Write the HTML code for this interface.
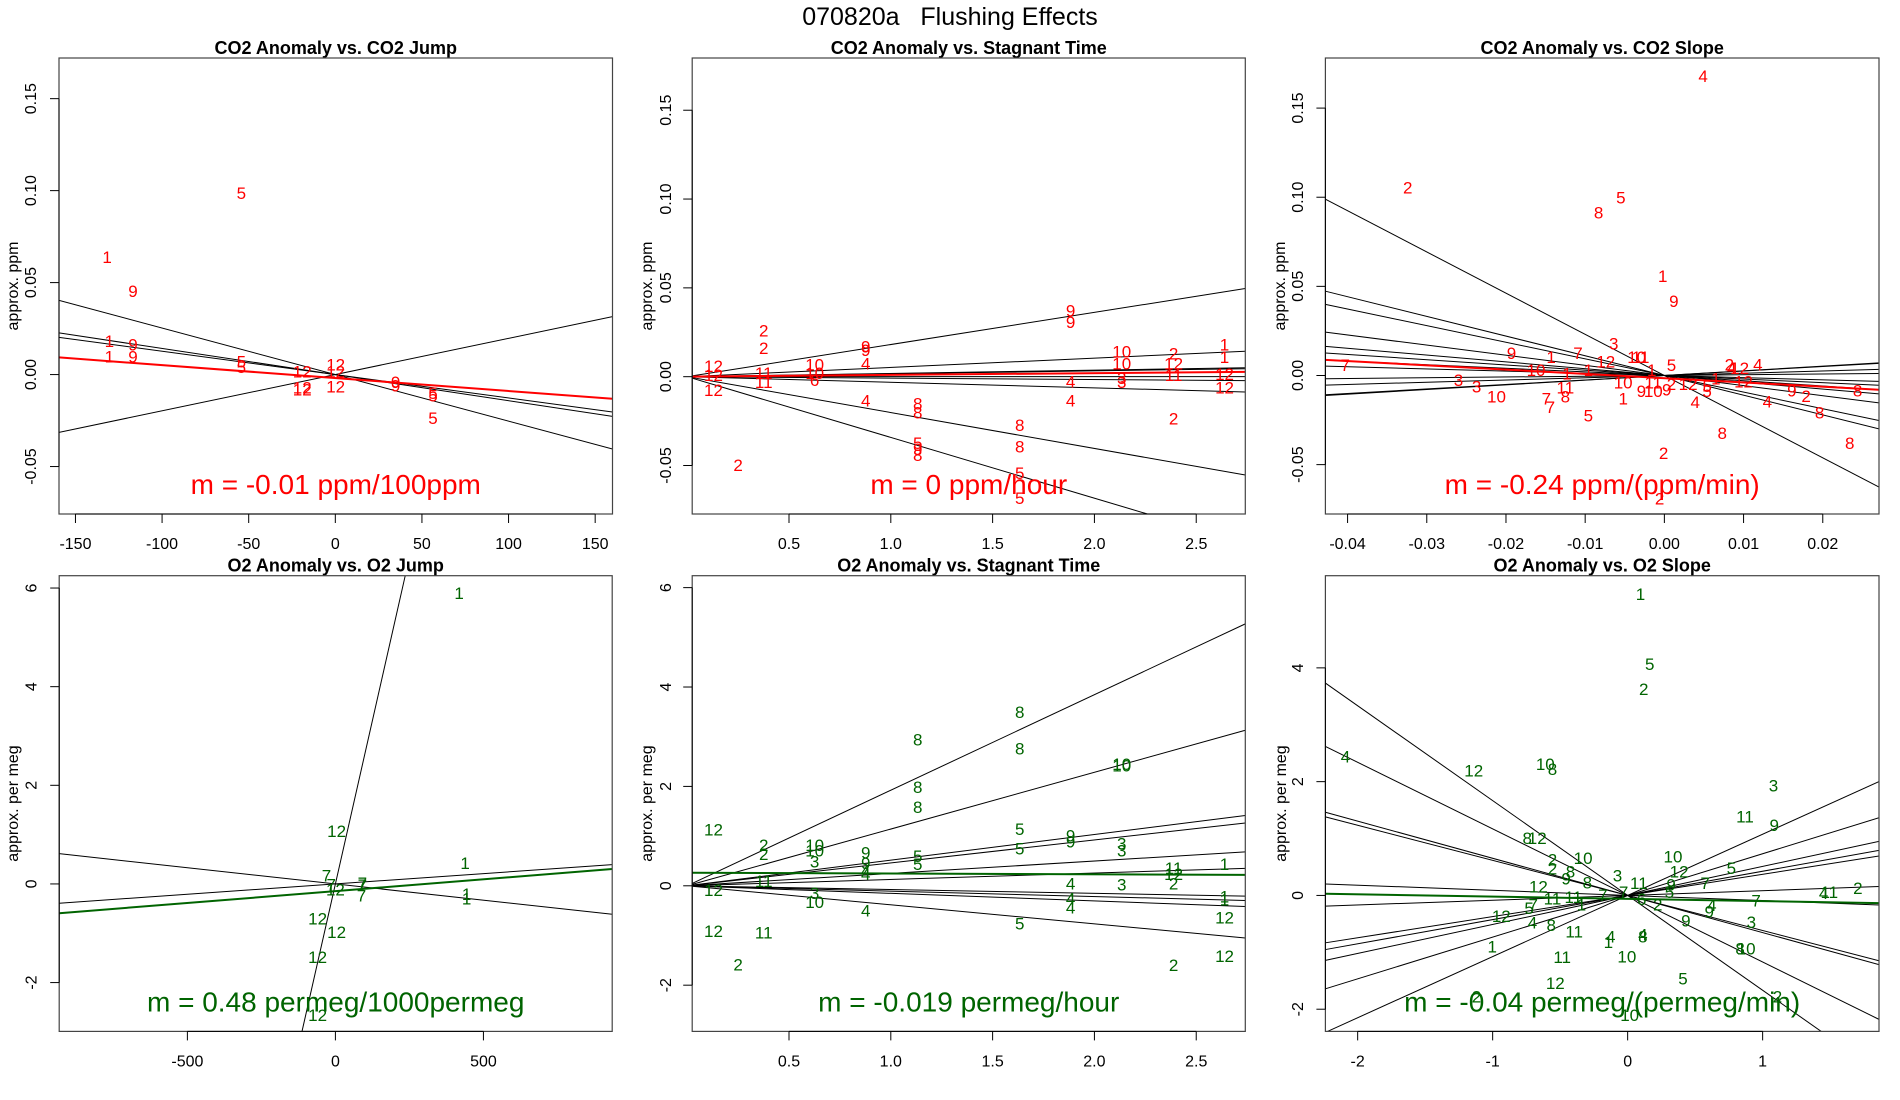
<!DOCTYPE html>
<html><head><meta charset="utf-8"><style>
html,body{margin:0;padding:0;background:#fff;width:1900px;height:1100px;overflow:hidden;}
svg{display:block;font-family:"Liberation Sans",Arial,sans-serif;}
</style></head><body>
<svg id="fig" width="1900" height="1100" viewBox="0 0 1900 1100">
<rect x="0" y="0" width="1900" height="1100" fill="#fff"/>
<text x="950" y="25" font-size="25" text-anchor="middle" style="white-space:pre" xml:space="preserve">070820a   Flushing Effects</text>
</svg>
<script>
// ---------- Panel 1: CO2 Anomaly vs. CO2 Jump ----------
const p1XTicks = [-150,-100,-50,0,50,100,150];
const p1XTickLabels = ["-150","-100","-50","0","50","100","150"];
const p1YTicks = [-0.05,0,0.05,0.10,0.15];
const p1YTickLabels = ["-0.05","0.00","0.05","0.10","0.15"];
const p1Slopes = [-0.000253,-0.000142,-0.000127,0.000197];
const p1FitSlope = -0.0000704;
const p1FitIntercept = -0.0019;
const p1Labels = ["5","1","9","1","1","9","9","5","5","12","12","12","12","12","12","9","9","5","5","5"];
const p1PX = [-54.2,-131.7,-116.8,-130.4,-130.4,-116.8,-116.8,-54.2,-54.2,-19.1,-19.1,-19.1,0.2,0.2,0.2,34.8,34.8,56.4,56.4,56.4];
const p1PY = [0.0988,0.0639,0.0454,0.0183,0.0099,0.0163,0.0099,0.0072,0.0042,0.0017,-0.0070,-0.0082,0.0056,0.0017,-0.0065,-0.0041,-0.0060,-0.0099,-0.0113,-0.0235];

// ---------- Panel 2: CO2 Anomaly vs. Stagnant Time ----------
const p2XTicks = [0.5,1.0,1.5,2.0,2.5];
const p2XTickLabels = ["0.5","1.0","1.5","2.0","2.5"];
const p2YTicks = [-0.05,0,0.05,0.10,0.15];
const p2YTickLabels = ["-0.05","0.00","0.05","0.10","0.15"];
const p2Slopes = [0.0181,0.00522,0.00183,0.00164,0,-0.0008,-0.00314,-0.0202,-0.0342];
const p2FitSlope = 0.001;
const p2FitIntercept = 0;
const p2Labels = ["12","12","12","2","2","2","11","11","10","10","6","9","9","4","4","8","8","5","9","8","8","8","5","5","9","9","4","4","10","10","3","3","2","12","11","2","1","1","12","12"];
const p2PX = [0.129,0.129,0.129,0.25,0.376,0.376,0.376,0.376,0.626,0.626,0.626,0.877,0.877,0.877,0.877,1.132,1.132,1.132,1.132,1.132,1.633,1.633,1.633,1.633,1.883,1.883,1.883,1.883,2.134,2.134,2.134,2.134,2.389,2.389,2.389,2.389,2.639,2.639,2.639,2.639];
const p2PY = [0.0060,0.0010,-0.0074,-0.0496,0.0261,0.0161,0.0020,-0.0030,0.0070,0.0020,-0.0020,0.0171,0.0151,0.0074,-0.0134,-0.0151,-0.0201,-0.0372,-0.0408,-0.0442,-0.0271,-0.0392,-0.0543,-0.0683,0.0372,0.0308,-0.0026,-0.0134,0.0141,0.0074,-0.0006,-0.0030,0.0131,0.0074,0.0010,-0.0235,0.0181,0.0111,0.0014,-0.0060];

// ---------- Panel 3: CO2 Anomaly vs. CO2 Slope ----------
const p3XTicks = [-0.04,-0.03,-0.02,-0.01,0,0.01,0.02];
const p3XTickLabels = ["-0.04","-0.03","-0.02","-0.01","0.00","0.01","0.02"];
const p3YTicks = [-0.05,0,0.05,0.10,0.15];
const p3YTickLabels = ["-0.05","0.00","0.05","0.10","0.15"];
const p3Slopes = [-2.31,-1.105,-0.932,-0.568,-0.381,-0.295,-0.201,-0.122,0.042,0.126,0.252,0.262];
const p3FitSlope = -0.24;
const p3FitIntercept = -0.0015;
const p3Labels = ["4","2","5","8","1","9","3","9","7","1","7","10","1","1","12","10","11","5","1","3","3","10","7","7","11","8","5","1","10","9","10","11","9","2","12","5","5","1","4","8","2","2","2","4","12","4","12","4","9","2","8","8","8"];
const p3PX = [0.00489,-0.0324,-0.0055,-0.0083,-0.0002,0.0012,-0.0064,-0.0193,-0.0109,-0.0143,-0.0403,-0.0162,-0.0123,-0.0096,-0.0074,-0.0035,-0.0030,0.0009,-0.0016,-0.026,-0.0237,-0.0212,-0.0149,-0.0144,-0.0125,-0.0125,-0.0096,-0.0052,-0.0052,-0.0029,-0.0014,-0.0014,0.0003,0.0009,0.0030,0.0054,0.0054,0.0065,0.0039,0.0073,-0.0001,-0.0006,0.0082,0.0085,0.0095,0.0118,0.0100,0.0130,0.0161,0.0179,0.0196,0.0244,0.0234];
const p3PY = [0.168,0.1054,0.0998,0.0914,0.0557,0.0417,0.0179,0.0126,0.0126,0.0103,0.0058,0.0032,0.0012,0.0032,0.0078,0.0103,0.0103,0.0058,0.0032,-0.0024,-0.0062,-0.0118,-0.0128,-0.0178,-0.0068,-0.0118,-0.0224,-0.0128,-0.0038,-0.0088,-0.0088,-0.0038,-0.0078,-0.0048,-0.0048,-0.0088,-0.0060,-0.0018,-0.0148,-0.0324,-0.0435,-0.0689,0.0062,0.0042,0.0042,0.0062,-0.0034,-0.0146,-0.0084,-0.0114,-0.0208,-0.0084,-0.0379];

// ---------- Panel 4: O2 Anomaly vs. O2 Jump ----------
const p4XTicks = [-500,0,500];
const p4XTickLabels = ["-500","0","500"];
const p4YTicks = [-2,0,2,4,6];
const p4YTickLabels = ["-2","0","2","4","6"];
const p4Slopes = [0.0265,-0.000658,0.000419];
const p4FitSlope = 0.00048;
const p4FitIntercept = -0.146;
const p4Labels = ["1","12","1","7","7","12","7","7","7","1","1","12","12","12","12"];
const p4PX = [418,4,438,-30,-14,0,91,91,88,443,443,-60,4,-60,-60];
const p4PY = [5.90,1.07,0.42,0.17,-0.01,-0.11,0.02,-0.02,-0.23,-0.20,-0.30,-0.70,-0.97,-1.48,-2.66];

// ---------- Panel 5: O2 Anomaly vs. Stagnant Time ----------
const p5XTicks = [0.5,1.0,1.5,2.0,2.5];
const p5XTickLabels = ["0.5","1.0","1.5","2.0","2.5"];
const p5YTicks = [-2,0,2,4,6];
const p5YTickLabels = ["-2","0","2","4","6"];
const p5Slopes = [1.923,1.142,0.516,0.461,0.249,0.128,-0.076,-0.108,-0.152,-0.383];
const p5FitSlope = -0.016;
const p5FitIntercept = 0.264;
const p5Labels = ["12","12","12","2","2","2","11","11","10","10","3","3","10","9","9","4","4","4","8","8","8","5","5","8","8","5","5","5","9","9","4","4","4","10","10","3","3","3","11","12","2","2","1","1","1","12","12"];
const p5PX = [0.129,0.129,0.129,0.25,0.376,0.376,0.376,0.376,0.626,0.626,0.626,0.626,0.626,0.877,0.877,0.877,0.877,0.877,1.132,1.132,1.132,1.132,1.132,1.633,1.633,1.633,1.633,1.633,1.883,1.883,1.883,1.883,1.883,2.134,2.134,2.134,2.134,2.134,2.389,2.389,2.389,2.389,2.639,2.639,2.639,2.639,2.639];
const p5PY = [1.13,-0.08,-0.91,-1.58,0.82,0.64,0.10,-0.94,0.82,0.71,0.49,-0.15,-0.33,0.67,0.46,0.31,0.24,-0.50,2.94,1.99,1.59,0.60,0.44,3.50,2.76,1.14,0.75,-0.76,1.01,0.89,0.05,-0.26,-0.44,2.45,2.42,0.85,0.71,0.03,0.36,0.24,0.05,-1.59,0.44,-0.22,-0.28,-0.64,-1.41];

// ---------- Panel 6: O2 Anomaly vs. O2 Slope ----------
const p6XTicks = [-2,-1,0,1];
const p6XTickLabels = ["-2","-1","0","1"];
const p6YTicks = [-2,0,2,4];
const p6YTickLabels = ["-2","0","2","4"];
const p6Slopes = [-1.667,-1.170,-0.653,-0.617,-0.090,0.084,0.372,0.425,0.510,0.733,1.075];
const p6FitSlope = -0.04;
const p6FitIntercept = -0.06;
const p6Labels = ["1","5","2","4","12","10","8","3","11","9","8","12","10","10","2","2","8","12","5","9","3","8","11","9","7","12","7","5","11","11","7","1","7","5","12","4","8","11","1","4","1","4","8","11","10","12","5","10","2","2","9","4","9","7","3","8","10","2","6","4","11","2"];
const p6PX = [0.095,0.164,0.119,-2.09,-1.14,-0.61,-0.557,1.08,0.869,1.086,-0.744,-0.670,-0.33,0.336,-0.557,-0.557,-0.423,0.381,0.768,-0.456,-0.075,-0.298,0.083,0.322,0.574,-0.661,-0.030,0.31,-0.557,-0.402,-0.184,-0.342,-0.699,-0.73,-0.936,-0.705,-0.566,-0.396,-1.003,-0.125,-0.143,0.113,0.113,-0.485,-0.006,-0.536,0.41,0.015,-1.12,1.11,0.431,0.624,0.604,0.952,0.916,0.833,0.878,0.223,0.104,1.452,1.494,1.705];
const p6PY = [5.30,4.07,3.63,2.44,2.20,2.31,2.22,1.93,1.39,1.24,1.01,1.01,0.66,0.68,0.63,0.47,0.42,0.42,0.48,0.30,0.35,0.23,0.22,0.19,0.22,0.16,0.06,0.06,-0.05,-0.03,0.01,-0.16,-0.16,-0.22,-0.36,-0.48,-0.52,-0.63,-0.90,-0.72,-0.82,-0.69,-0.72,-1.08,-1.07,-1.54,-1.46,-2.10,-1.78,-1.78,-0.44,-0.17,-0.28,-0.09,-0.47,-0.93,-0.93,-0.16,-0.06,0.04,0.06,0.13];

const NS = "http://www.w3.org/2000/svg";
const svg = document.getElementById('fig');
function mk(tag, attrs, parent){
  const e = document.createElementNS(NS, tag);
  for (const k in attrs) e.setAttribute(k, attrs[k]);
  (parent||svg).appendChild(e);
  return e;
}

const panels = [
 {id:'co2-jump', title:'CO2 Anomaly vs. CO2 Jump', L:59, R:612.5, T:58, B:514, xmin:-159.5, xmax:160, ymin:-0.0758, ymax:0.1721, xt:p1XTicks, xtl:p1XTickLabels, yt:p1YTicks, ytl:p1YTickLabels, slopes:p1Slopes, fs:p1FitSlope, fi:p1FitIntercept, lab:p1Labels, px:p1PX, py:p1PY, col:'#ff0000', ylab:'approx. ppm', m:'m = -0.01 ppm/100ppm', ytx:30, ylx:12, fromZero:false},
 {id:'co2-stagnant', title:'CO2 Anomaly vs. Stagnant Time', L:692.2, R:1245.3, T:58, B:514, xmin:0.0246, xmax:2.741, ymin:-0.0773, ymax:0.1794, xt:p2XTicks, xtl:p2XTickLabels, yt:p2YTicks, ytl:p2YTickLabels, slopes:p2Slopes, fs:p2FitSlope, fi:p2FitIntercept, lab:p2Labels, px:p2PX, py:p2PY, col:'#ff0000', ylab:'approx. ppm', m:'m = 0 ppm/hour', ytx:665, ylx:646, fromZero:true},
 {id:'co2-slope', title:'CO2 Anomaly vs. CO2 Slope', L:1325.4, R:1879, T:58, B:514, xmin:-0.0428, xmax:0.0271, ymin:-0.0777, ymax:0.1781, xt:p3XTicks, xtl:p3XTickLabels, yt:p3YTicks, ytl:p3YTickLabels, slopes:p3Slopes, fs:p3FitSlope, fi:p3FitIntercept, lab:p3Labels, px:p3PX, py:p3PY, col:'#ff0000', ylab:'approx. ppm', m:'m = -0.24 ppm/(ppm/min)', ytx:1297, ylx:1279, fromZero:false},
 {id:'o2-jump', title:'O2 Anomaly vs. O2 Jump', L:59.2, R:612.2, T:575.7, B:1031.4, xmin:-933, xmax:935, ymin:-2.99, ymax:6.25, xt:p4XTicks, xtl:p4XTickLabels, yt:p4YTicks, ytl:p4YTickLabels, slopes:p4Slopes, fs:p4FitSlope, fi:p4FitIntercept, lab:p4Labels, px:p4PX, py:p4PY, col:'#006400', ylab:'approx. per meg', m:'m = 0.48 permeg/1000permeg', ytx:30.6, ylx:12, fromZero:false},
 {id:'o2-stagnant', title:'O2 Anomaly vs. Stagnant Time', L:692.2, R:1245.3, T:575.7, B:1031.4, xmin:0.0246, xmax:2.741, ymin:-2.93, ymax:6.24, xt:p5XTicks, xtl:p5XTickLabels, yt:p5YTicks, ytl:p5YTickLabels, slopes:p5Slopes, fs:p5FitSlope, fi:p5FitIntercept, lab:p5Labels, px:p5PX, py:p5PY, col:'#006400', ylab:'approx. per meg', m:'m = -0.019 permeg/hour', ytx:665, ylx:646, fromZero:true},
 {id:'o2-slope', title:'O2 Anomaly vs. O2 Slope', L:1325.4, R:1879, T:575.7, B:1031.4, xmin:-2.239, xmax:1.862, ymin:-2.39, ymax:5.62, xt:p6XTicks, xtl:p6XTickLabels, yt:p6YTicks, ytl:p6YTickLabels, slopes:p6Slopes, fs:p6FitSlope, fi:p6FitIntercept, lab:p6Labels, px:p6PX, py:p6PY, col:'#006400', ylab:'approx. per meg', m:'m = -0.04 permeg/(permeg/min)', ytx:1297, ylx:1280, fromZero:false}
];

// clip line y = a + b*x to the panel's data box; returns [x1,y1,x2,y2] or null
function clipLine(p, a, b){
  let x1 = p.xmin, x2 = p.xmax;
  if (b !== 0){
    let xa = (p.ymin - a)/b, xb = (p.ymax - a)/b;
    if (xa > xb){ const t = xa; xa = xb; xb = t; }
    x1 = Math.max(x1, xa); x2 = Math.min(x2, xb);
  }
  if (x2 <= x1) return null;
  return [x1, a + b*x1, x2, a + b*x2];
}

panels.forEach(function(p){
  const sx = v => p.L + (v - p.xmin)/(p.xmax - p.xmin)*(p.R - p.L);
  const sy = v => p.B - (v - p.ymin)/(p.ymax - p.ymin)*(p.B - p.T);
  const g = mk('g', {});
  
  
  const cp = mk('clipPath', {id:'clip-'+p.id}, g);
  mk('rect', {x:p.L, y:p.T, width:p.R-p.L, height:p.B-p.T}, cp);
  const cx = (p.L + p.R)/2;
  const t = mk('text', {x:cx, y:p.T-4, 'font-size':18, 'font-weight':'bold', 'text-anchor':'middle'}, g);
  t.textContent = p.title;
  
  
  const pg = mk('g', {'clip-path':'url(#clip-'+p.id+')'}, g);
  
  
  p.slopes.forEach(function(s){
    const c = clipLine(p, 0, s);
    if (!c) return;
    const ln = mk('line', {x1:sx(c[0]), y1:sy(c[1]), x2:sx(c[2]), y2:sy(c[3]), stroke:'#000', 'stroke-width':1}, pg);
    
    
  });
  const cf = clipLine(p, p.fi, p.fs);
  if (cf){
    const fl = mk('line', {x1:sx(cf[0]), y1:sy(cf[1]), x2:sx(cf[2]), y2:sy(cf[3]), stroke:p.col, 'stroke-width':2}, pg);
    
    
  }
  p.lab.forEach(function(s, i){
    const tx = mk('text', {x:sx(p.px[i]), y:sy(p.py[i]) + 6, 'font-size':17, fill:p.col, 'text-anchor':'middle'}, pg);
    tx.textContent = s;
    
    
  });
  const mt = mk('text', {x:cx, y:p.B - 20, 'font-size':28, fill:p.col, 'text-anchor':'middle'}, g);
  mt.textContent = p.m;
  
  
  const fr = mk('rect', {x:p.L, y:p.T, width:p.R-p.L, height:p.B-p.T, fill:'none', stroke:'#444', 'stroke-width':1.2}, g);
  
  
  const xa = mk('g', {}, g);
  
  
  mk('line', {x1:sx(p.xt[0]), y1:p.B, x2:sx(p.xt[p.xt.length-1]), y2:p.B, stroke:'#000', 'stroke-width':1}, xa);
  p.xt.forEach(function(v, i){
    mk('line', {x1:sx(v), y1:p.B, x2:sx(v), y2:p.B+9, stroke:'#000', 'stroke-width':1}, xa);
    const l = mk('text', {x:sx(v), y:p.B+35, 'font-size':16, 'text-anchor':'middle'}, xa);
    l.textContent = p.xtl[i];
    
    
  });
  const ya = mk('g', {}, g);
  
  
  mk('line', {x1:p.L, y1:sy(p.yt[0]), x2:p.L, y2:sy(p.yt[p.yt.length-1]), stroke:'#000', 'stroke-width':1}, ya);
  p.yt.forEach(function(v, i){
    mk('line', {x1:p.L-9, y1:sy(v), x2:p.L, y2:sy(v), stroke:'#000', 'stroke-width':1}, ya);
    const l = mk('text', {x:0, y:0, 'font-size':16, 'text-anchor':'middle', transform:'translate('+(p.ytx+6)+','+sy(v)+') rotate(-90)'}, ya);
    l.textContent = p.ytl[i];
    
    
  });
  const yl = mk('text', {x:0, y:0, 'font-size':16, 'text-anchor':'middle', transform:'translate('+(p.ylx+6)+','+((p.T+p.B)/2)+') rotate(-90)'}, g);
  yl.textContent = p.ylab;
  
  
});
</script>
</body></html>
